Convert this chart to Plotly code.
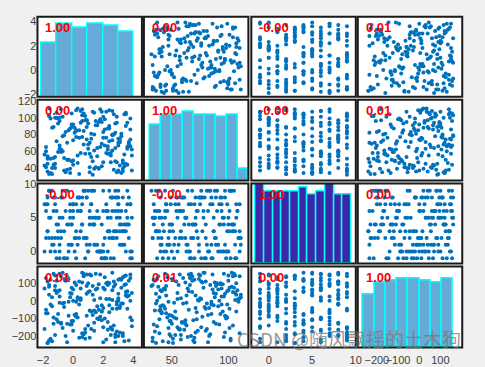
import plotly.graph_objects as go

# ---------------- data ----------------
var1 = [2.3, -1.2, 0.8, 3.6, -0.4, 1.9, 3.1, -1.7, 0.2, 2.8, 1.1, -0.9, 3.8, 0.5, 2.0, -1.5, 1.6, 3.3, -0.1, 2.6,
        -1.8, 0.9, 3.0, 1.4, -0.6, 2.2, 3.7, 0.0, -1.3, 1.8, 2.9, -0.2, 0.7, 3.4, -1.0, 1.2, 2.5, -1.6, 3.9, 0.4,
        1.7, -0.7, 2.7, 0.3, 3.5, -1.4, 1.0, 2.1, -0.3, 3.2, 0.6, -1.9, 2.4, 1.5, -0.8, 3.0, 0.1, 2.8, -1.1, 1.3,
        3.6, 0.8, -0.5, 2.0, 1.1, -1.6, 3.3, 0.2, 2.6, -0.9, 1.9, 3.8, -1.2, 0.5, 2.3, -0.1, 1.4, 3.1, -1.7, 0.9,
        2.9, -1.4, 1.6, 0.0, 3.5, -0.6, 2.2, 1.0, -1.8, 3.7, 0.6, 2.5, -0.3, 1.3, 3.0, -1.0, 0.3, 2.7, 1.8, -0.8,
        0.4, 3.4, -1.5, 2.1, 1.2, -0.2, 3.9, 0.7, -1.1, 2.8, 1.5, -0.7, 3.2, 0.1, 2.4, -1.9, 1.7, 3.6, -0.4, 2.0,
        -1.3, 2.6, 0.9, 3.3, -0.9, 1.4, 0.2, 2.9, -1.6, 3.8, 1.1, -0.1, 2.3, 0.6, 3.1, -1.2, 1.9, 0.0, 2.7, -0.5,
        3.5, 1.0, -1.7, 2.4, 0.4, 3.0, -0.8, 1.6, 2.1, -1.4, 0.8, 3.7, -0.3, 1.3, 2.6, -1.0, 3.3, 0.5, -1.8, 2.0,
        1.2, -0.6, 3.1, 0.3, 2.5, -1.3, 1.8, 3.6, -0.2, 0.9, 2.2, -1.5, 3.4, 1.5, -0.9, 2.8, 0.0, 3.9, -1.1, 1.7,
        0.7, 2.9, -0.4, 3.2, 1.4, -1.7, 2.3, 0.2, 3.5, -0.7, 1.1, 2.6, -1.2, 0.6, 3.0, -0.1, 1.9, -1.6, 2.4, 3.8]

var2 = [87, 45, 102, 63, 38, 95, 71, 54, 109, 82, 41, 67, 99, 58, 76, 34, 91, 49, 105, 73,
        60, 97, 36, 80, 52, 107, 69, 44, 89, 65, 101, 39, 84, 56, 93, 75, 47, 111, 62, 85,
        40, 78, 104, 55, 90, 33, 68, 98, 50, 81, 110, 43, 72, 96, 59, 37, 88, 64, 106, 48,
        94, 57, 35, 83, 70, 103, 46, 77, 61, 100, 42, 86, 53, 108, 66, 92, 39, 74, 51, 97,
        35, 88, 64, 49, 106, 79, 58, 93, 41, 71, 103, 55, 85, 32, 67, 99, 46, 80, 110, 62,
        76, 42, 99, 67, 53, 87, 37, 105, 72, 48, 91, 60, 34, 82, 109, 56, 95, 44, 70, 101,
        52, 108, 74, 39, 96, 61, 84, 47, 102, 66, 35, 89, 57, 77, 43, 100, 69, 92, 38, 83,
        104, 63, 45, 90, 33, 75, 110, 54, 86, 40, 97, 68, 50, 107, 79, 59, 36, 94, 65, 47,
        81, 37, 71, 111, 58, 44, 98, 65, 34, 89, 76, 51, 104, 41, 63, 93, 73, 55, 100, 39,
        68, 94, 50, 78, 106, 36, 62, 85, 45, 101, 57, 80, 40, 96, 70, 48, 107, 33, 87, 74]

var3 = [3, 7, -1, 5, 9, 0, 4, 8, 2, 6, 1, -1, 7, 3, 9, 5, 0, 8, 4, 2,
        6, 1, 9, 4, -1, 7, 2, 5, 8, 0, 3, 6, 9, 1, 4, 7, -1, 2, 5, 8,
        0, 5, 3, 8, 6, 2, 9, -1, 4, 1, 7, 0, 3, 5, 8, 6, 2, 9, -1, 4,
        7, 2, 6, 0, 4, 9, 1, 3, 8, 5, -1, 7, 2, 6, 0, 4, 9, 1, 3, 8,
        5, 9, 1, 7, 3, -1, 6, 0, 2, 8, 4, 5, 1, 9, 7, 3, 6, -1, 0, 2,
        8, 4, 0, 2, 7, 5, -1, 9, 6, 3, 1, 8, 4, 0, 2, 7, 5, 9, -1, 6,
        1, 6, 8, 3, 0, 4, 7, 2, 9, -1, 5, 1, 6, 8, 3, 0, 4, 7, 2, 9,
        4, 0, 7, 9, 2, 8, 3, 6, -1, 1, 9, 4, 0, 5, 8, 2, 3, 6, 7, 1,
        9, 3, 5, 1, 8, 6, 0, 4, 7, 2, -1, 9, 3, 5, 1, 8, 6, 0, 4, 5,
        2, 8, 4, 6, 1, 3, 5, -1, 0, 9, 6, 2, 8, 4, 7, 1, -1, 5, 3, 0]

var4 = [-120, 85, -215, 30, 140, -60, -180, 110, -5, -235, 55, 155, -95, 15, -150, 120, -30, -200, 75, 5,
        130, -85, 40, -170, -10, 100, -225, 65, -130, 150, -45, 20, -190, 90, -75, 145, -155, 35, -110, -20,
        -50, 160, -140, 10, 95, -230, 50, -100, 125, -15, -185, 70, -65, 155, -125, 0, 105, -205, 45, -80,
        25, -160, 115, -40, -210, 80, 135, -90, -165, 60, -25, 150, -195, 5, 90, -135, -55, 125, -240, 40,
        -175, 20, 70, -115, 145, -35, -220, 100, -70, 30, 160, -150, -5, 85, -200, 55, -95, 110, 15, -130,
        110, -230, -20, 135, -60, 45, -145, 155, -105, -190, 65, -15, 120, -80, 10, -160, 95, -45, -235, 75,
        -95, 60, 150, -185, 25, -125, 90, -5, -225, 130, -55, 40, -165, 105, -30, 145, -110, 0, 80, -200,
        50, -140, -70, 100, -210, 15, 140, -100, 65, -30, -180, 115, -85, 35, 160, -120, -15, 70, -50, -235,
        -160, 125, -40, 20, -195, 155, -90, 55, -135, 85, 10, -215, 140, -65, -10, 95, -170, 45, 115, -105,
        140, -20, -130, 75, 5, -240, 105, -75, 30, -155, 150, -45, 60, -205, 120, -115, -60, 90, -25, 0]

variables = [var1, var2, var3, var4]

# histogram counts per variable (diagonal panels)
hist1_counts = [29, 39, 37, 39, 38, 35]
hist2_counts = [23, 27, 27, 28, 27, 27, 26, 27, 5]
hist3_counts = [23, 20, 20, 20, 20, 21, 19, 20, 23, 19, 19]
hist4_counts = [22, 27, 28, 29, 29, 28, 27, 29]
hist_counts = [hist1_counts, hist2_counts, hist3_counts, hist4_counts]
hist_bin_start = [-2.11, 30.56, -1.5, -265.0]
hist_bin_width = [1.025, 9.68, 1.0, 53.1]

corr_labels = [["1.00", "0.00", "-0.00", "0.01"],
               ["0.00", "1.00", "-0.00", "0.01"],
               ["-0.00", "-0.00", "1.00", "0.00"],
               ["0.01", "0.01", "0.00", "1.00"]]

row_tickvals = [[-2, 0, 2, 4], [40, 60, 80, 100, 120], [0, 5, 10], [-200, -100, 0, 100]]
col_tickvals = [[-2, 0, 2, 4], [50, 100], [0, 5, 10], [-200, -100, 0, 100]]

watermark = "CSDN @随风飘摇的土木狗"

# ---------------- styling / layout ----------------
W, H = 485, 367
col_px = [(37, 143), (145, 251), (254, 360), (362, 468)]
row_px = [(11, 93), (96, 179), (182, 264), (267, 350)]
col_ranges = [[-2.37, 4.57], [25.3, 117.7], [-2.0, 10.02], [-290, 203]]
row_ranges = [[-2.2, 4.38], [25, 121.5], [-1.8, 10.05], [-265, 196]]
hist_ymax = [43, 33, 22.1, 33.9]
hist_colors = ['#66AAD7', '#66AAD7', '#3E26A8', '#66AAD7']

tickfont = dict(family="Arial, Liberation Sans, sans-serif", size=11, color="#404040")

fig = go.Figure()
layout = dict(width=W, height=H, autosize=False,
              margin=dict(l=0, r=0, t=0, b=0),
              paper_bgcolor='#F0F0F0', plot_bgcolor='white', showlegend=False)
shapes = []
annotations = []

for r in range(4):
    for c in range(4):
        k = r * 4 + c + 1
        xs = 'x' if k == 1 else f'x{k}'
        ys = 'y' if k == 1 else f'y{k}'
        xname = 'xaxis' if k == 1 else f'xaxis{k}'
        yname = 'yaxis' if k == 1 else f'yaxis{k}'
        x0, x1 = col_px[c]
        y0, y1 = row_px[r]
        xdom = [x0 / W, x1 / W]
        ydom = [1 - y1 / H, 1 - y0 / H]
        layout[xname] = dict(domain=xdom, range=col_ranges[c], anchor=ys,
                             showgrid=False, zeroline=False, showline=False, ticks='',
                             showticklabels=(r == 3), tickvals=col_tickvals[c],
                             tickfont=tickfont, fixedrange=True, tickangle=0,
                             ticklabelstandoff=5)
        layout[yname] = dict(domain=ydom, range=row_ranges[r], anchor=xs,
                             showgrid=False, zeroline=False, showline=False, ticks='',
                             showticklabels=(c == 0), tickvals=row_tickvals[r],
                             tickfont=tickfont, fixedrange=True)
        if r != c:
            fig.add_trace(go.Scatter(x=variables[c], y=variables[r], mode='markers',
                                     marker=dict(size=4, color='#0072BD', line=dict(width=0)),
                                     xaxis=xs, yaxis=ys, hoverinfo='skip'))
        else:
            # empty trace so that the tick-carrying axes of this panel are drawn
            fig.add_trace(go.Scatter(x=[None], y=[None], mode='markers',
                                     xaxis=xs, yaxis=ys, hoverinfo='skip'))
            hk = 17 + r
            layout[f'xaxis{hk}'] = dict(domain=xdom, range=col_ranges[c], anchor=f'y{hk}',
                                        visible=False, fixedrange=True,
                                        showgrid=False, zeroline=False)
            layout[f'yaxis{hk}'] = dict(domain=ydom, range=[0, hist_ymax[r]], anchor=f'x{hk}',
                                        visible=False, fixedrange=True,
                                        showgrid=False, zeroline=False)
            counts = hist_counts[r]
            w = hist_bin_width[r]
            centers = [hist_bin_start[r] + (i + 0.5) * w for i in range(len(counts))]
            fig.add_trace(go.Bar(x=centers, y=counts, width=[w] * len(counts),
                                 marker=dict(color=hist_colors[r],
                                             line=dict(color='#00FFFF', width=1.5)),
                                 xaxis=f'x{hk}', yaxis=f'y{hk}', hoverinfo='skip'))
        shapes.append(dict(type='rect', xref='paper', yref='paper',
                           x0=x0 / W, x1=x1 / W, y0=1 - y1 / H, y1=1 - y0 / H,
                           line=dict(color='#1A1A1A', width=2), fillcolor='rgba(0,0,0,0)',
                           layer='above'))
        annotations.append(dict(text=f"<b>{corr_labels[r][c]}</b>", xref='paper', yref='paper',
                                x=(x0 + 6) / W, y=1 - (y0 + 11) / H, xanchor='left', yanchor='middle',
                                showarrow=False,
                                font=dict(family="Arial, Liberation Sans, sans-serif", size=13,
                                          color='#FF0000')))

annotations.append(dict(text=watermark, xref='paper', yref='paper',
                        x=469 / W, y=1 - 341 / H, xanchor='right', yanchor='middle',
                        showarrow=False,
                        font=dict(family="Noto Sans CJK SC, sans-serif", size=19,
                                  color='rgba(120,120,120,0.75)')))

layout['shapes'] = shapes
layout['annotations'] = annotations
layout['bargap'] = 0
fig.update_layout(**layout)

fig.write_html("out.html", config={'displayModeBar': False},
               post_script="document.body.style.margin='0';document.body.style.overflow='hidden';")
